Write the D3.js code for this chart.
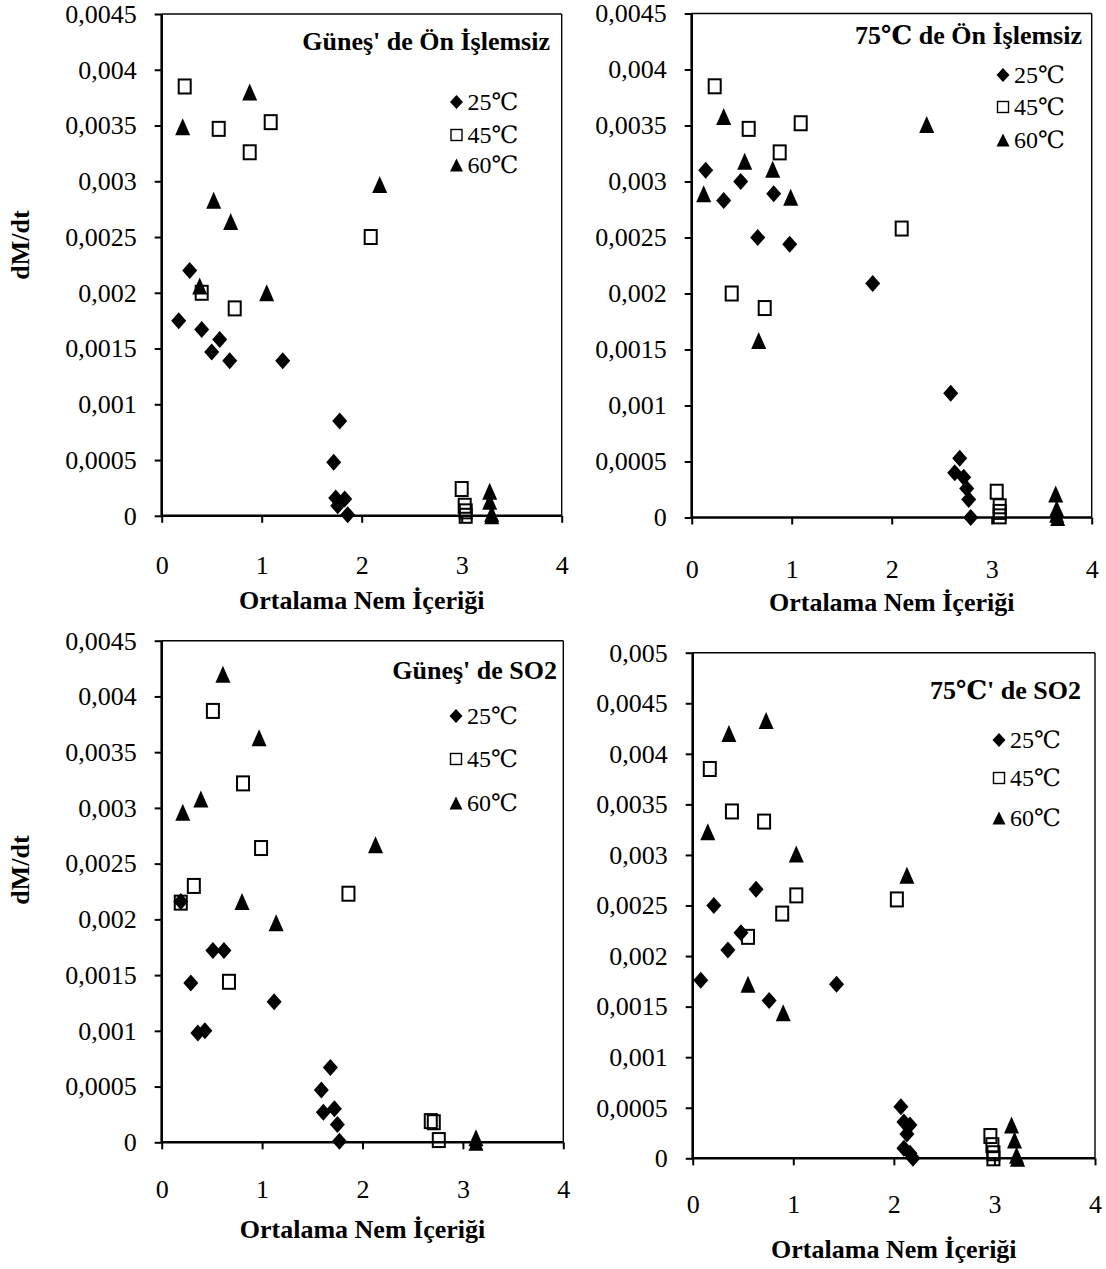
<!DOCTYPE html>
<html lang="tr">
<head>
<meta charset="UTF-8">
<title>dM/dt - Ortalama Nem İçeriği</title>
<script src="https://d3js.org/d3.v7.min.js"></script>
<style>
    body { margin: 0; background: #fff; }
    svg { display: block; }
    svg text { font-family: "Liberation Serif", "DejaVu Serif", serif; fill: #000; }
    .tick-label { font-size: 26px; }
    .axis-title { font-size: 26px; font-weight: bold; }
    .panel-title { font-size: 26px; font-weight: bold; }
    .legend-text { font-size: 24px; }
</style>
</head>
<body>
<svg id="chart" width="1106" height="1269"></svg>
<script>
// ---- data (x = ortalama nem içeriği, y = dM/dt) ----
// panel 1: Güneş' de Ön İşlemsiz
var sunRaw25 = [[0.17,0.00175],[0.28,0.0022],[0.40,0.00167],[0.50,0.00147],[0.58,0.00158],[0.68,0.00139],[1.21,0.00139],
    [1.72,0.00048],[1.78,0.00085],[1.74,0.00016],[1.83,0.00015],[1.76,0.00009],[1.86,0.00001]];
var sunRaw45 = [[0.23,0.00385],[0.57,0.00347],[1.09,0.00353],[0.88,0.00326],[0.40,0.0020],[0.73,0.00186],[2.09,0.0025],
    [3.00,0.00024],[3.03,0.00009],[3.04,0.00004],[3.04,0.0]];
var sunRaw60 = [[0.88,0.0038],[0.21,0.00349],[0.52,0.00283],[0.69,0.00264],[0.38,0.00206],[1.05,0.0020],[2.18,0.00297],
    [3.28,0.00022],[3.28,0.00013],[3.30,0.00002],[3.30,0.0]];

// panel 2: 75℃ de Ön İşlemsiz
var ovenRaw25 = [[0.14,0.0031],[0.49,0.0030],[0.32,0.00283],[0.82,0.00289],[0.66,0.0025],[0.98,0.00244],[1.81,0.00209],
    [2.59,0.00111],[2.68,0.00053],[2.63,0.0004],[2.72,0.00036],[2.75,0.00026],[2.77,0.00016],[2.79,0.0]];
var ovenRaw45 = [[0.23,0.00385],[0.57,0.00347],[1.09,0.00352],[0.88,0.00326],[0.40,0.0020],[0.73,0.00187],[2.10,0.00258],
    [3.05,0.00023],[3.08,0.0001],[3.08,0.00005],[3.08,0.00001]];
var ovenRaw60 = [[0.32,0.00358],[0.53,0.00318],[0.81,0.00311],[0.12,0.00289],[0.99,0.00286],[0.67,0.00158],[2.35,0.00351],
    [3.64,0.00021],[3.65,0.00008],[3.65,0.00003],[3.66,0.0]];

// panel 3: Güneş' de SO2
var sunSo2_25 = [[0.19,0.00216],[0.51,0.00172],[0.62,0.00172],[0.29,0.00143],[1.12,0.00126],[0.36,0.00098],[0.43,0.0010],
    [1.68,0.00067],[1.59,0.00047],[1.61,0.00027],[1.72,0.0003],[1.75,0.00016],[1.77,0.00001]];
var sunSo2_45 = [[0.51,0.00387],[0.81,0.00322],[0.99,0.00264],[0.32,0.0023],[0.19,0.00215],[1.86,0.00223],[0.67,0.00144],
    [2.68,0.00019],[2.71,0.00018],[2.76,0.00002]];
var sunSo2_60 = [[0.61,0.0042],[0.97,0.00363],[0.39,0.00308],[0.21,0.00296],[0.80,0.00216],[1.14,0.00197],[2.13,0.00267],
    [3.13,0.00004],[3.13,0.0]];

// panel 4: 75℃' de SO2
var ovenSo2_25 = [[0.63,0.00266],[0.21,0.0025],[0.48,0.00223],[0.35,0.00206],[0.08,0.00176],[1.43,0.00172],[0.76,0.00156],
    [2.07,0.00051],[2.10,0.00036],[2.16,0.00033],[2.13,0.00024],[2.10,0.0001],[2.16,0.00005],[2.19,0.0]];
var ovenSo2_45 = [[0.17,0.00385],[0.39,0.00343],[0.71,0.00333],[1.03,0.0026],[2.03,0.00256],[0.89,0.00242],[0.55,0.00219],
    [2.96,0.00022],[2.98,0.00013],[2.99,0.00005],[2.99,0.0]];
var ovenSo2_60 = [[0.73,0.00433],[0.36,0.0042],[0.15,0.00323],[1.03,0.00301],[2.13,0.0028],[0.55,0.00172],[0.90,0.00144],
    [3.17,0.00033],[3.20,0.00018],[3.22,0.00003],[3.23,0.0]];

var xTicks = [0, 1, 2, 3, 4];
var yTicksA = [0, 0.0005, 0.001, 0.0015, 0.002, 0.0025, 0.003, 0.0035, 0.004, 0.0045];
var yTicksB = [0, 0.0005, 0.001, 0.0015, 0.002, 0.0025, 0.003, 0.0035, 0.004, 0.0045, 0.005];
var seriesNames = ["25℃", "45℃", "60℃"];
var xTitle = "Ortalama Nem İçeriği";
var yTitle = "dM/dt";

// ---- layout ----
var panels = [
    { title: "Güneş' de Ön İşlemsiz", series: [sunRaw25, sunRaw45, sunRaw60], yTicks: yTicksA,
      left: 161.7, right: 561.7, top: 14, bottom: 515.8, titleX: 550, titleY: 50,
      legX: 456.5, legY: [102, 135, 165], xLabDy: 58, xTitleDy: 93, yTitleY: 245 },
    { title: "75℃ de Ön İşlemsiz", series: [ovenRaw25, ovenRaw45, ovenRaw60], yTicks: yTicksA,
      left: 691.7, right: 1091.7, top: 13.5, bottom: 517.5, titleX: 1082, titleY: 44,
      legX: 1003, legY: [75, 107, 140], xLabDy: 60, xTitleDy: 93 },
    { title: "Güneş' de SO2", series: [sunSo2_25, sunSo2_45, sunSo2_60], yTicks: yTicksA,
      left: 161.7, right: 563.3, top: 640.7, bottom: 1142.3, titleX: 557, titleY: 679,
      legX: 456, legY: [716, 759, 803], xLabDy: 56, xTitleDy: 96, yTitleY: 870 },
    { title: "75℃' de SO2", series: [ovenSo2_25, ovenSo2_45, ovenSo2_60], yTicks: yTicksB,
      left: 692.7, right: 1095, top: 652.7, bottom: 1158.3, titleX: 1081, titleY: 699,
      legX: 999, legY: [740, 778, 818], xLabDy: 55, xTitleDy: 100 }
];

var svg = d3.select("#chart");

function fmt(v) {
    if (v === 0) return "0";
    return String(+v.toFixed(4)).replace(".", ",");
}

// marker shapes, centred on 0,0
function diamond(w, h) { return "M0," + (-h/2) + "L" + (w/2) + ",0L0," + (h/2) + "L" + (-w/2) + ",0Z"; }
function triangle(w, h) { return "M0," + (-h/2) + "L" + (w/2) + "," + (h/2) + "L" + (-w/2) + "," + (h/2) + "Z"; }

function drawMarker(g, kind, big) {
    if (kind === 0) {
        g.append("path").attr("d", big ? diamond(15, 17) : diamond(13, 14)).attr("fill", "#000");
    } else if (kind === 1) {
        var w = big ? 12 : 11, h = big ? 14 : 11;
        g.append("rect").attr("x", -w/2).attr("y", -h/2).attr("width", w).attr("height", h)
            .attr("fill", "none").attr("stroke", "#000").attr("stroke-width", big ? 2 : 1.4);
    } else {
        g.append("path").attr("d", big ? triangle(15, 17) : triangle(13, 13)).attr("fill", "#000");
    }
}

panels.forEach(function(p) {
    var yMax = p.yTicks[p.yTicks.length - 1];
    var x = d3.scaleLinear().domain([0, 4]).range([p.left, p.right]);
    var y = d3.scaleLinear().domain([0, yMax]).range([p.bottom, p.top]);
    var g = svg.append("g");

    // thin frame on top / right
    g.append("line").attr("x1", p.left).attr("x2", p.right).attr("y1", p.top).attr("y2", p.top)
        .attr("stroke", "#000").attr("stroke-width", 1.4);
    g.append("line").attr("x1", p.right).attr("x2", p.right).attr("y1", p.top).attr("y2", p.bottom)
        .attr("stroke", "#000").attr("stroke-width", 1.4);

    // y axis
    var yAxis = g.append("g").attr("transform", "translate(" + p.left + ",0)")
        .call(d3.axisLeft(y).tickValues(p.yTicks).tickSize(7).tickPadding(18).tickFormat(fmt))
        .attr("font-family", null).attr("font-size", null);
    yAxis.select(".domain").attr("stroke-width", 2.6).attr("d", "M0," + p.bottom + "V" + p.top);
    yAxis.selectAll(".tick line").attr("stroke-width", 2);
    yAxis.selectAll(".tick text").attr("class", "tick-label");

    // data
    p.series.forEach(function(pts, si) {
        pts.forEach(function(d) {
            var m = g.append("g").attr("transform", "translate(" + x(d[0]) + "," + y(d[1]) + ")");
            drawMarker(m, si, true);
        });
    });

    // x axis (drawn over markers like the original)
    var xAxis = g.append("g").attr("transform", "translate(0," + p.bottom + ")")
        .call(d3.axisBottom(x).tickValues(xTicks).tickSize(7).tickFormat(d3.format("d")))
        .attr("font-family", null).attr("font-size", null);
    xAxis.select(".domain").attr("stroke-width", 2.6).attr("d", "M" + p.left + ",0H" + p.right);
    xAxis.selectAll(".tick line").attr("stroke-width", 2);
    xAxis.selectAll(".tick text").attr("class", "tick-label").attr("y", p.xLabDy).attr("dy", 0);

    // axis titles
    g.append("text").attr("class", "axis-title")
        .attr("x", (p.left + p.right) / 2).attr("y", p.bottom + p.xTitleDy)
        .attr("text-anchor", "middle").text(xTitle);
    if (p.yTitleY) {
        g.append("text").attr("class", "axis-title")
            .attr("transform", "translate(29," + p.yTitleY + ") rotate(-90)")
            .attr("text-anchor", "middle").text(yTitle);
    }

    // panel title
    g.append("text").attr("class", "panel-title")
        .attr("x", p.titleX).attr("y", p.titleY).attr("text-anchor", "end").text(p.title);

    // legend
    seriesNames.forEach(function(name, i) {
        var lg = g.append("g").attr("transform", "translate(" + p.legX + "," + p.legY[i] + ")");
        drawMarker(lg, i, false);
        lg.append("text").attr("class", "legend-text").attr("x", 11).attr("y", 8).text(name);
    });
});
</script>
</body>
</html>
